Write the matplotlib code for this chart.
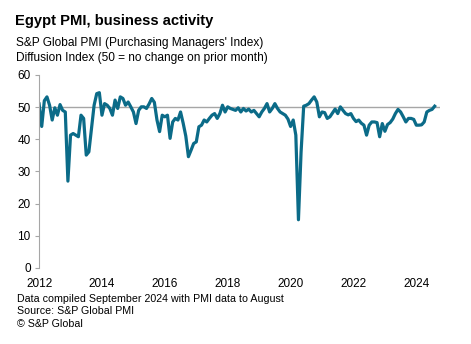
import matplotlib
matplotlib.use('Agg')
import matplotlib.pyplot as plt
import numpy as np

plt.rcParams['font.family'] = ['Liberation Sans', 'DejaVu Sans']

# monthly business activity index, Jan 2012 - Aug 2024
y2012 = [51.0, 44.0, 52.0, 53.2, 50.6, 46.0, 49.8, 47.5, 50.8, 49.0, 48.5, 27.0]
y2013 = [41.3, 41.8, 41.3, 40.8, 47.5, 46.5, 35.1, 36.1, 43.4, 50.6, 54.2, 54.5]
y2014 = [47.5, 51.1, 50.6, 49.6, 47.5, 52.2, 49.6, 53.2, 52.7, 50.6, 51.6, 50.1]
y2015 = [48.5, 44.9, 49.0, 50.1, 50.1, 49.6, 51.0, 52.7, 51.5, 46.0, 42.4, 47.5]
y2016 = [47.0, 47.5, 40.3, 45.4, 46.5, 46.0, 48.5, 45.0, 41.0, 34.6, 36.6, 38.7]
y2017 = [39.2, 43.9, 44.4, 46.0, 45.4, 46.5, 47.5, 48.0, 46.5, 48.0, 50.6, 48.5]
y2018 = [50.1, 49.6, 49.3, 49.0, 49.8, 48.5, 49.6, 48.8, 49.4, 48.5, 49.0, 48.0]
y2019 = [47.0, 48.5, 49.6, 51.1, 48.5, 49.6, 51.1, 49.6, 48.5, 48.0, 47.5, 46.3]
y2020 = [44.0, 46.0, 41.3, 15.0, 36.0, 50.3, 50.6, 51.1, 52.2, 53.2, 51.6, 47.0]
y2021 = [48.5, 48.3, 46.5, 47.0, 48.2, 49.4, 48.0, 50.1, 49.0, 48.0, 47.6, 48.0]
y2022 = [46.5, 45.5, 46.0, 45.0, 44.4, 41.3, 44.4, 45.4, 45.4, 45.2, 40.8, 44.9]
y2023 = [42.5, 44.6, 45.2, 46.3, 48.0, 49.3, 48.5, 47.0, 45.4, 46.5, 46.5, 46.2]
y2024 = [44.4, 44.4, 44.5, 45.4, 48.5, 49.0, 49.3, 50.3]

values = (y2012 + y2013 + y2014 + y2015 + y2016 + y2017 + y2018 + y2019
          + y2020 + y2021 + y2022 + y2023 + y2024)
dates = 2012 + np.arange(len(values)) / 12.0

year_ticks = [2012, 2014, 2016, 2018, 2020, 2022, 2024]
y_ticks = [0, 10, 20, 30, 40, 50, 60]

fig = plt.figure(figsize=(4.71, 3.44), dpi=100)
ax = fig.add_axes([0.083, 0.221, 0.851, 0.561])

ax.axhline(50, color='#a6a6a6', lw=1.0, zorder=1)
ax.plot(dates, values, color='#0b6b88', lw=2.3, zorder=2, solid_joinstyle='round')

ax.set_xlim(2012, 2024.75)
ax.set_ylim(0, 60)
ax.set_yticks(y_ticks)
ax.set_xticks(year_ticks)
ax.set_xticklabels([str(y) for y in year_ticks], fontsize=8.5)
ax.tick_params(axis='x', length=0, pad=7)
ax.tick_params(axis='y', length=3, color='#a6a6a6', labelsize=8.5, pad=3)

for s in ['top', 'right', 'bottom']:
    ax.spines[s].set_visible(False)
ax.spines['left'].set_color('#a6a6a6')
ax.spines['left'].set_linewidth(0.8)

fig.text(0.032, 0.94, 'Egypt PMI, business activity', fontsize=10.6, fontweight='bold',
         ha='left', va='center')
fig.text(0.033, 0.875, "S&P Global PMI (Purchasing Managers' Index)", fontsize=8.6,
         ha='left', va='center')
fig.text(0.033, 0.831, 'Diffusion Index (50 = no change on prior month)', fontsize=8.6,
         ha='left', va='center')

fig.text(0.036, 0.132, 'Data compiled September 2024 with PMI data to August', fontsize=7.7,
         ha='left', va='center')
fig.text(0.036, 0.095, 'Source: S&P Global PMI', fontsize=7.7, ha='left', va='center')
fig.text(0.036, 0.058, '\u00a9 S&P Global', fontsize=7.7, ha='left', va='center')

fig.savefig('out.png', dpi=100)
